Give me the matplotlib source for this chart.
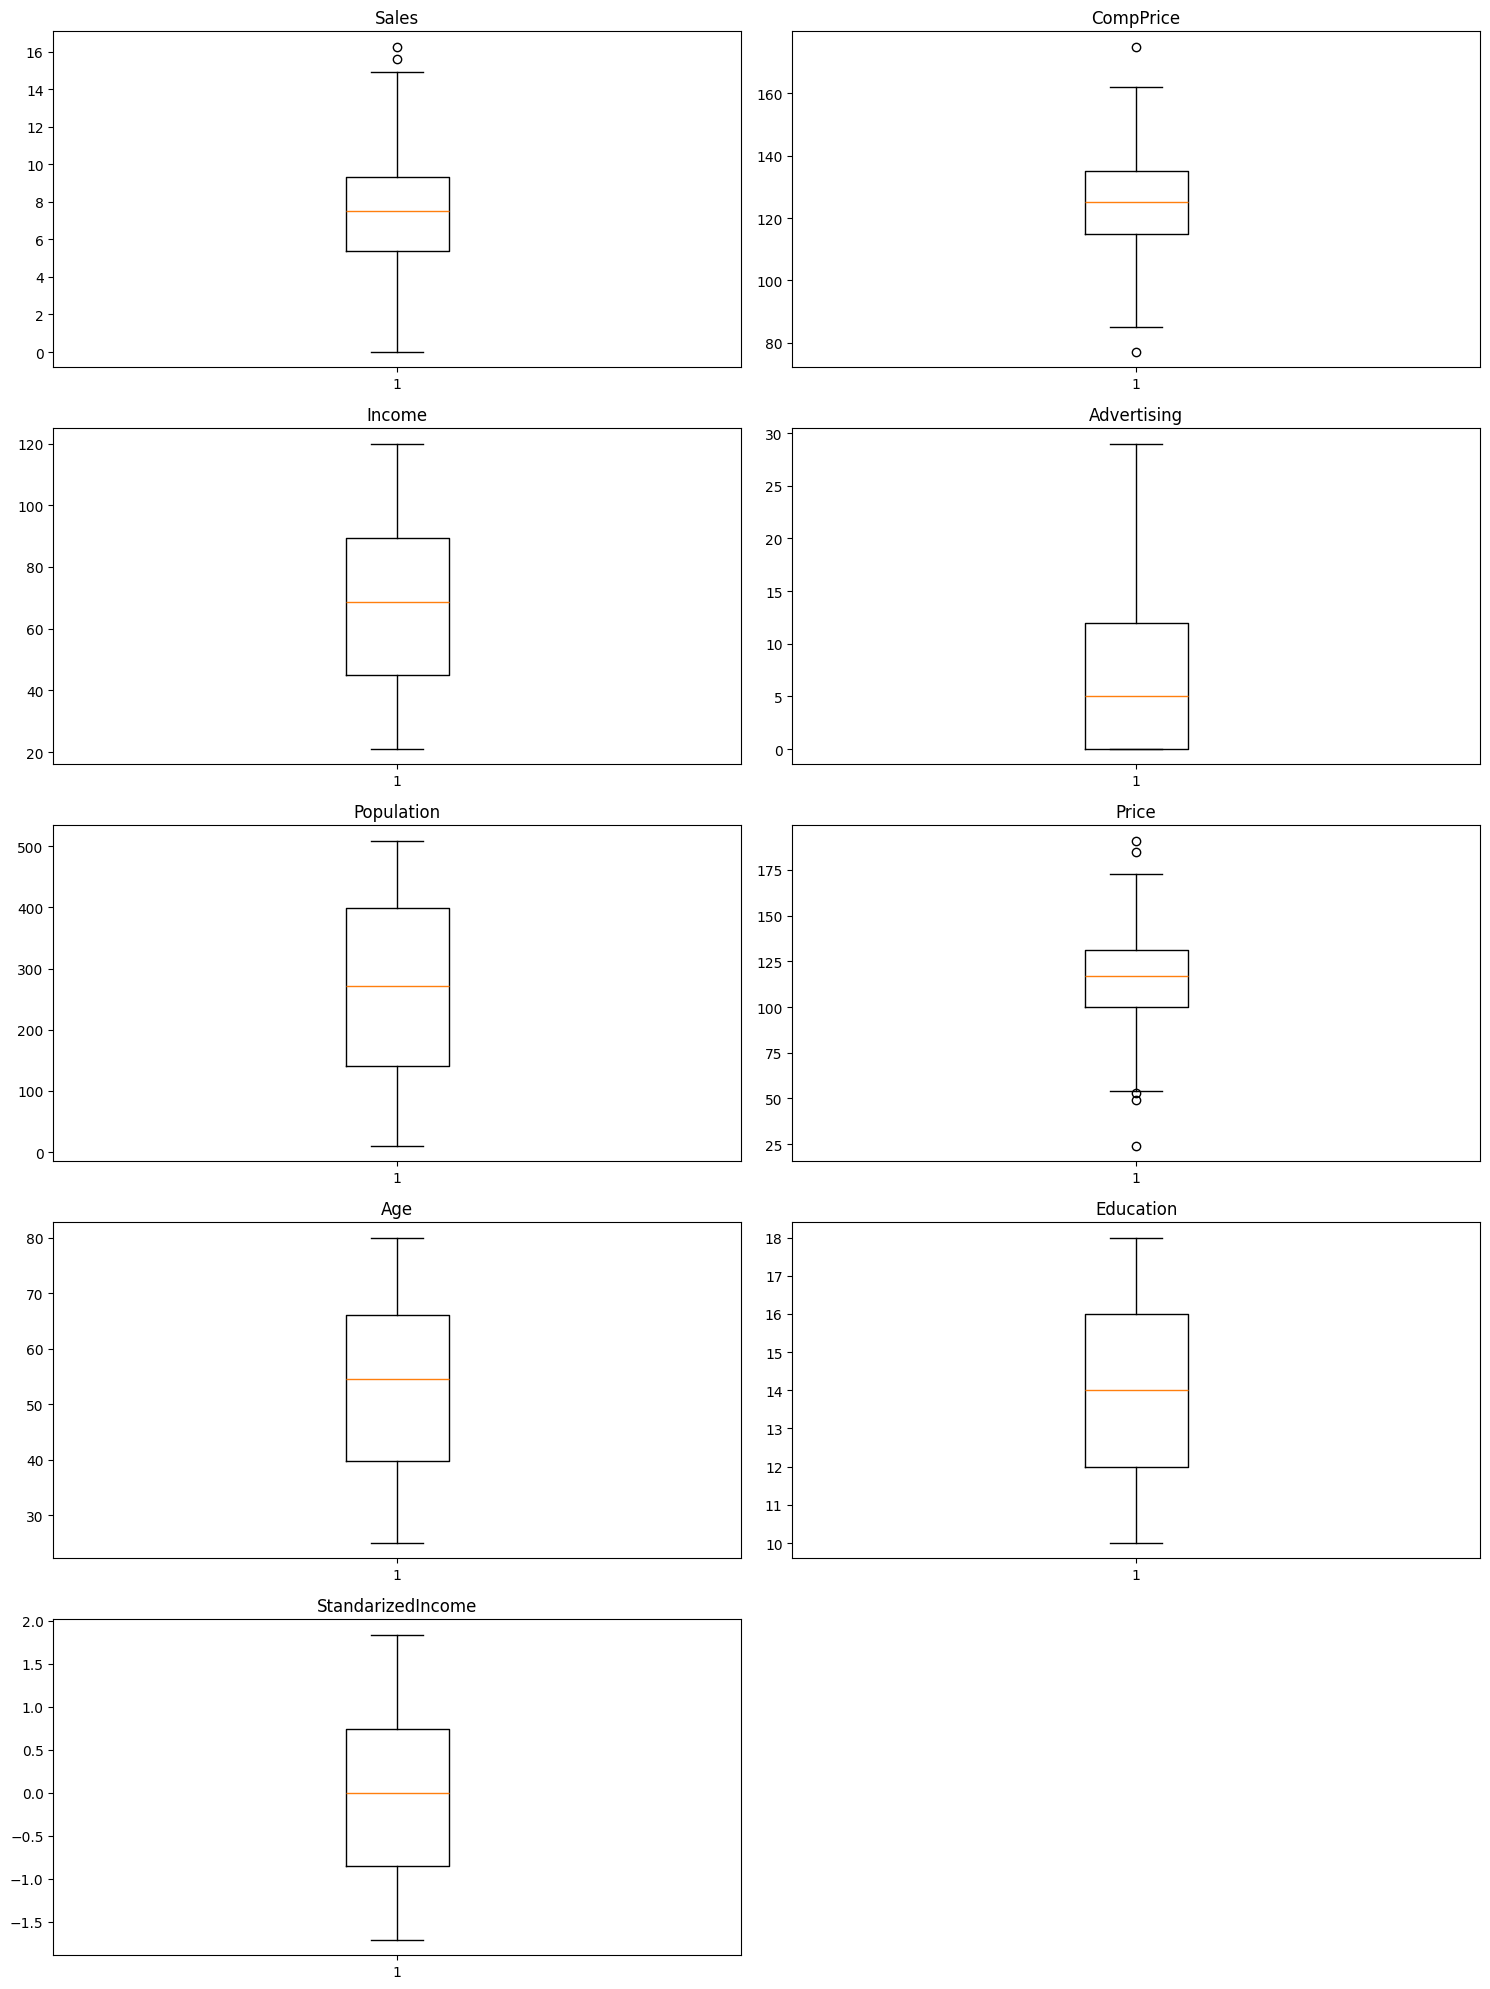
import matplotlib
matplotlib.use("Agg")
import matplotlib.pyplot as plt

# column names, one panel per column
columns = ["Sales", "CompPrice", "Income", "Advertising", "Population",
           "Price", "Age", "Education", "StandarizedIncome"]

# box statistics
whisker_low = [0.0, 85, 21, 0, 10, 54, 25, 10, -1.71]
q1 = [5.39, 115, 44.9, 0, 140, 100, 39.75, 12, -0.853]
median = [7.49, 125, 68.8, 5, 272, 117, 54.5, 14, 0.003]
q3 = [9.32, 135, 89.4, 12, 398.5, 131, 66, 16, 0.745]
whisker_high = [14.9, 162, 120, 29, 509, 173, 80, 18, 1.84]
outliers = [
    [15.63, 16.27],
    [77, 175],
    [],
    [],
    [],
    [24, 49, 53, 185, 191],
    [],
    [],
    [],
]

fig, axes = plt.subplots(5, 2, figsize=(15, 20), dpi=100)
axes = axes.flatten()

for i, col in enumerate(columns):
    stats = [{
        "whislo": whisker_low[i],
        "q1": q1[i],
        "med": median[i],
        "q3": q3[i],
        "whishi": whisker_high[i],
        "fliers": outliers[i],
    }]
    axes[i].bxp(stats)
    axes[i].set_title(col)

# no tenth column
axes[-1].remove()

plt.tight_layout()
plt.savefig("out.png", dpi=100, bbox_inches="tight")
